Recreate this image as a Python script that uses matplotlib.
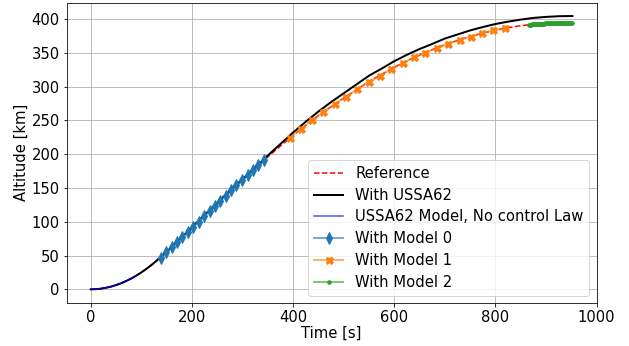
import matplotlib
matplotlib.use("Agg")
import matplotlib.pyplot as plt

# ---------------- data ----------------
t_ref = [0, 10, 20, 30, 40, 50, 60, 70, 80, 90, 100, 110, 120, 130, 140, 150,
         175, 200, 225, 250, 275, 300, 325, 350, 375, 400, 425, 450, 475, 500,
         525, 550, 575, 600, 625, 650, 675, 700, 725, 750, 775, 800, 825, 850,
         875, 900, 925, 952]
alt_ref = [0, 0.25, 1, 2.3, 4, 6.3, 9, 12.3, 16, 20.3, 25, 30.3, 36, 42.3, 49, 55.5,
           73, 92, 110, 128, 145.5, 162, 178.5, 196, 212, 228, 242.5, 257, 270, 283,
           295, 307.5, 318, 328.5, 338, 346.5, 354.5, 362, 368, 374, 379, 383.5, 387, 390,
           392, 393.5, 394.5, 395]

t_ussa = [0, 10, 20, 30, 40, 50, 60, 70, 80, 90, 100, 110, 120, 130, 140, 150,
          175, 200, 225, 250, 275, 300, 325, 350, 375, 400, 425, 450, 475, 500,
          525, 550, 575, 600, 625, 650, 675, 700, 725, 750, 775, 800, 825, 850,
          875, 900, 925, 952]
alt_ussa = [0, 0.25, 1, 2.3, 4, 6.3, 9, 12.3, 16, 20.3, 25, 30.3, 36, 42.3, 49, 55.5,
            73, 92, 110, 128, 146, 163, 180, 198, 215, 232, 248, 263, 277, 290,
            303, 316, 326.5, 337.5, 347, 355.5, 363, 371, 377, 383, 388, 392.5, 396, 399,
            401.5, 403, 404, 404.3]

t_nocl = [0, 10, 20, 30, 40, 50, 60, 70, 80, 90]
alt_nocl = [0, 0.25, 1, 2.3, 4, 6.3, 9, 12.3, 16, 20.3]

t_m0 = [138, 149, 160, 170, 181, 192, 202, 213, 224, 235,
        245, 256, 267, 278, 288, 299, 310, 320, 331, 342]
alt_m0 = [47, 54.8, 62.6, 69.8, 77.6, 85.4, 92.5, 100.3, 108.1, 116,
          123.1, 130.9, 138.7, 146.5, 153.7, 161.5, 169.3, 176.4, 184.2, 192]

t_m1 = [393, 415, 438, 460, 483, 505, 527, 549, 572, 594,
        617, 639, 661, 684, 706, 729, 751, 773, 796, 818]
alt_m1 = [224, 237, 251, 263, 274.5, 285, 296, 307, 316, 326,
          335, 343, 350, 357, 363.5, 369, 374, 379, 383, 386]

t_m2 = [866, 868, 870, 872, 874, 876, 878, 880, 882, 884, 886, 888, 890, 892, 894,
        896, 898, 900, 902, 904, 906, 908, 910, 912, 914, 916, 918, 920, 922, 924,
        926, 928, 930, 932, 934, 936, 938, 940, 942, 944, 946, 948, 950, 952]
alt_m2 = [391.5, 391.6, 391.7, 391.9, 392.0, 392.1, 392.3, 392.4, 392.5, 392.6,
          392.7, 392.8, 392.9, 393.0, 393.1, 393.2, 393.3, 393.4, 393.5, 393.5,
          393.6, 393.7, 393.7, 393.8, 393.9, 393.9, 394.0, 394.0, 394.1, 394.1,
          394.2, 394.2, 394.2, 394.3, 394.3, 394.3, 394.4, 394.4, 394.4, 394.4,
          394.5, 394.5, 394.5, 394.5]

labels = ["Reference", "With USSA62", "USSA62 Model, No control Law",
          "With Model 0", "With Model 1", "With Model 2"]

# ---------------- figure ----------------
FS = 14.7
plt.rcParams.update({
    "font.family": ["DejaVu Sans"],
    "font.size": FS,
    "xtick.major.size": 3.5,
    "ytick.major.size": 3.5,
    "xtick.major.pad": 3.5,
    "ytick.major.pad": 3.5,
    "axes.linewidth": 0.8,
})

fig = plt.figure(figsize=(629 / 72, 346 / 72), dpi=72)
ax = fig.add_axes([0.106, 0.1243, 0.9486 - 0.106, 0.9922 - 0.1243])

c0 = (0.122, 0.467, 0.706)
c1 = (1.0, 0.498, 0.055)
c2 = (0.173, 0.627, 0.173)

ax.plot(t_ref, alt_ref, color="red", linestyle="--", lw=1.5, label=labels[0])
ax.plot(t_ussa, alt_ussa, color="black", lw=2.0, label=labels[1])
ax.plot(t_nocl, alt_nocl, color="blue", alpha=0.7, lw=1.5, label=labels[2])
ax.plot(t_m0, alt_m0, color=c0 + (0.6,), lw=2.0, marker="d", markersize=8,
        markerfacecolor=c0, markeredgecolor=c0, label=labels[3])
ax.plot(t_m1, alt_m1, color=c1 + (0.6,), lw=2.0, marker="X", markersize=7,
        markerfacecolor=c1, markeredgecolor=c1, label=labels[4])
ax.plot(t_m2, alt_m2, color=c2 + (0.6,), lw=2.0, marker=".", markersize=7,
        markerfacecolor=c2, markeredgecolor=c2, label=labels[5])

ax.set_xlim(-47.6, 1000)
ax.set_ylim(-20.2, 424)
ax.set_xticks([0, 200, 400, 600, 800, 1000])
ax.set_yticks([0, 50, 100, 150, 200, 250, 300, 350, 400])
ax.grid(True, color="#b0b0b0", lw=0.8)
ax.set_axisbelow(True)

ax.set_xlabel("Time [s]", labelpad=0.5)
ax.set_ylabel("Altitude [km]", labelpad=3)

ax.legend(loc="lower right", fontsize=FS, labelspacing=0.46, borderpad=0.4,
          handlelength=2.0, handletextpad=0.8, borderaxespad=0.5)

fig.savefig("out.png", dpi=72)
